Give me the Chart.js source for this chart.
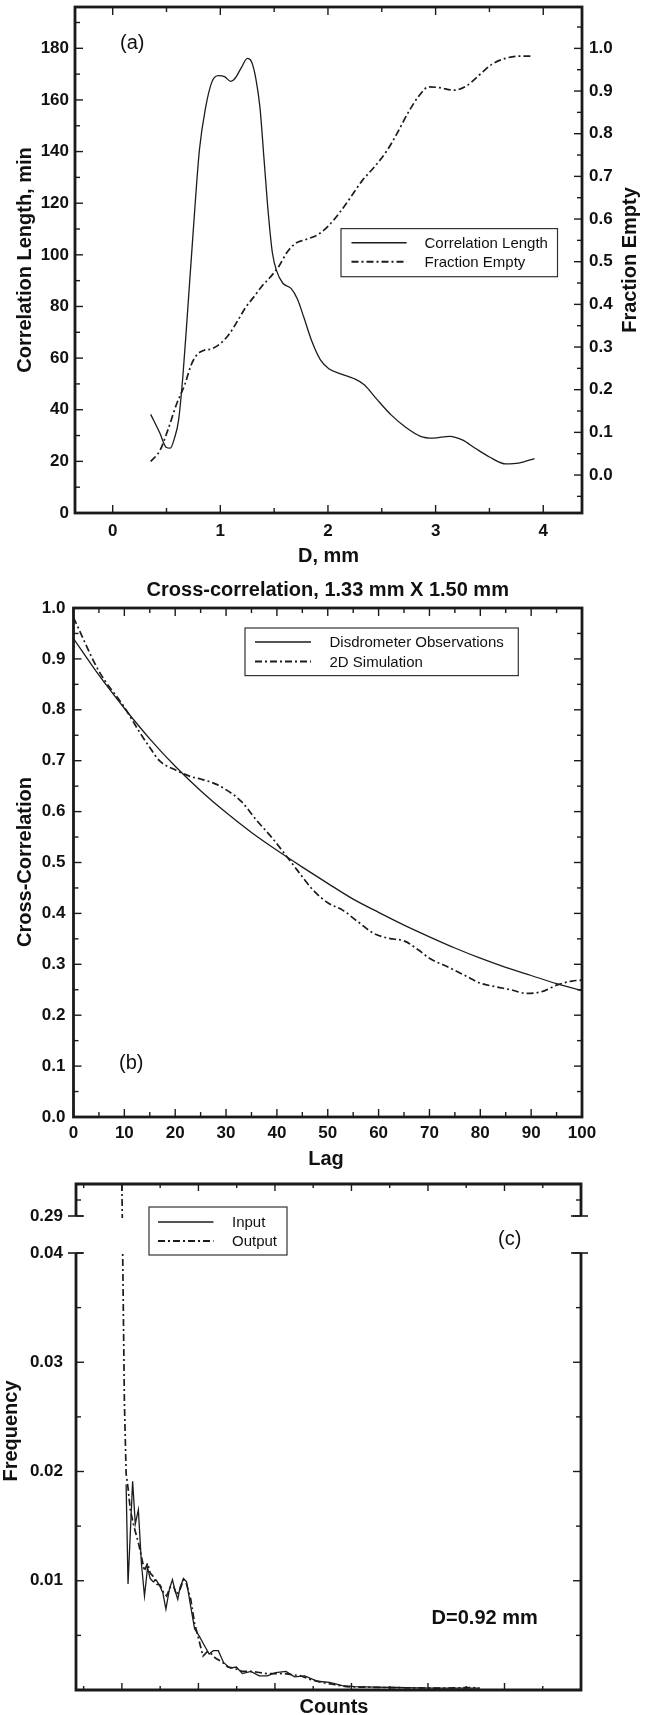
<!DOCTYPE html>
<html>
<head>
<meta charset="utf-8">
<script src="https://cdn.jsdelivr.net/npm/chart.js@4.4.0/dist/chart.umd.min.js"></script>
<style>
html,body{margin:0;padding:0;background:#fff;}
#wrap{position:relative;width:654px;height:1715px;background:#fff;}
canvas{position:absolute;left:0;}
</style>
</head>
<body>
<div id="wrap">
<canvas id="ca" width="654" height="575" style="top:0px"></canvas>
<canvas id="cb" width="654" height="600" style="top:575px"></canvas>
<canvas id="cc" width="654" height="540" style="top:1175px"></canvas>
</div>
<script>
// ---------------- DATA ----------------
// (a) Correlation length vs D
const clD   = [0.353,0.438,0.496,0.535,0.574,0.612,0.651,0.69,0.748,0.806,0.864,0.922,0.98,1.039,1.097,1.136,1.194,1.252,1.29,1.33,1.368,1.407,1.446,1.484,1.523,1.581,1.659,1.717,1.775,1.853,1.93,2.008,2.124,2.24,2.337,2.453,2.589,2.725,2.86,2.977,3.132,3.248,3.364,3.5,3.655,3.771,3.919];
const clVal = [38.2,31,25.5,25.1,29,35.9,52.4,74.5,109,140.7,157.2,167,169.4,169,167.2,168.3,172.4,176.1,174.8,168.3,157.2,136.6,115.9,100.7,93.8,89,86.9,82.8,75.9,66.2,59.3,55.9,53.8,52.1,49.7,44.1,37.9,33.1,29.7,29,29.7,28.3,25.2,21.7,19,19.3,21.1];
// (a) Fraction empty vs D
const feD   = [0.353,0.438,0.515,0.593,0.67,0.729,0.787,0.845,0.922,1.0,1.078,1.155,1.233,1.31,1.388,1.465,1.543,1.62,1.698,1.795,1.91,2.008,2.105,2.202,2.318,2.434,2.55,2.647,2.744,2.841,2.938,3.035,3.171,3.287,3.403,3.519,3.655,3.791,3.907];
const feVal = [0.032,0.057,0.107,0.166,0.212,0.258,0.283,0.292,0.296,0.308,0.329,0.359,0.392,0.417,0.443,0.464,0.489,0.522,0.543,0.552,0.564,0.585,0.614,0.648,0.69,0.723,0.761,0.803,0.849,0.887,0.91,0.908,0.902,0.912,0.937,0.962,0.977,0.982,0.982];
const aXMajor = [0,1,2,3,4];
const aXLabels = ['0','1','2','3','4'];
const aXMinor = [0.5,1.5,2.5,3.5];
const aYMajor = [0,20,40,60,80,100,120,140,160,180];
const aYLabels = ['0','20','40','60','80','100','120','140','160','180'];
const aYMinor = [10,30,50,70,90,110,130,150,170,190];
const aY2Major = [0,0.1,0.2,0.3,0.4,0.5,0.6,0.7,0.8,0.9,1.0];
const aY2Labels = ['0.0','0.1','0.2','0.3','0.4','0.5','0.6','0.7','0.8','0.9','1.0'];
const aY2Minor = [-0.05,0.05,0.15,0.25,0.35,0.45,0.55,0.65,0.75,0.85,0.95,1.05];

// (b) Cross-correlation vs lag
const obsLag = [0,5,10,15,20,25,30,35,40,45,50,55,60,65,70,75,80,85,90,95,100];
const obsVal = [0.940,0.868,0.803,0.743,0.689,0.641,0.598,0.559,0.524,0.491,0.459,0.428,0.402,0.377,0.354,0.332,0.312,0.294,0.278,0.262,0.248];
const simLag = [0,5,10,13,15,17,20,23,25,28,30,33,36,39,42,44,47,50,53,56,59,62,65,68,70,74,77,80,83,86,89,92,95,98,100];
const simVal = [0.981,0.876,0.805,0.756,0.726,0.699,0.682,0.669,0.664,0.654,0.643,0.620,0.583,0.549,0.511,0.485,0.447,0.421,0.406,0.383,0.361,0.351,0.346,0.327,0.312,0.293,0.278,0.263,0.256,0.250,0.243,0.246,0.259,0.267,0.269];
const bXMajor = [0,10,20,30,40,50,60,70,80,90,100];
const bXLabels = ['0','10','20','30','40','50','60','70','80','90','100'];
const bXMinor = [5,15,25,35,45,55,65,75,85,95];
const bYMajor = [0,0.1,0.2,0.3,0.4,0.5,0.6,0.7,0.8,0.9,1.0];
const bYLabels = ['0.0','0.1','0.2','0.3','0.4','0.5','0.6','0.7','0.8','0.9','1.0'];
const bYMinor = [0.05,0.15,0.25,0.35,0.45,0.55,0.65,0.75,0.85,0.95];

// (c) Frequency vs counts
const inCounts = [1.1,1.6,2.8,3.5,4.3,5.1,5.9,6.7,7.4,8.2,8.9,9.8,10.7,11.5,12.4,13.2,13.9,14.6,15.2,16.1,16.9,18.0,19.0,20.1,21.2,22.8,23.9,25.2,26.6,28.3,29.9,31.5,33.7,35.9,38.0,40.2,42.9,45.1,47.8,51.1,54.3,57.6,60.9,66.3,71.7,77.2,82.6,88.0,93.5];
const inFreq   = [0.0188,0.0097,0.0191,0.0152,0.0165,0.0116,0.0086,0.0112,0.0102,0.0099,0.0101,0.0096,0.0089,0.0074,0.0092,0.0101,0.0091,0.0083,0.0094,0.0102,0.0099,0.0076,0.0056,0.0050,0.0043,0.0033,0.0036,0.0036,0.0025,0.0020,0.0021,0.0015,0.0017,0.0013,0.0013,0.0016,0.0017,0.0012,0.0013,0.0008,0.0007,0.0004,0.0003,0.00026,0.00023,0.0002,0.00017,0.00017,0.00017];
const outCounts = [0,0.2,0.65,1.1,1.6,2.2,2.8,3.5,4.3,5.1,5.9,6.7,7.4,8.2,9.1,10.0,10.9,11.7,12.6,13.5,14.3,15.2,16.1,16.9,18.0,19.0,20.1,21.2,22.3,23.4,24.5,26.1,27.7,29.3,31.5,33.7,35.9,38.0,40.2,42.4,44.6,46.7,48.9,52.2,55.4,58.7,63.0,68.5,75.0,82.6,88.0,91.3,93.5];
const outFreq   = [0.30,0.040,0.0264,0.0198,0.0185,0.0165,0.0155,0.0145,0.0135,0.0122,0.0109,0.0116,0.0107,0.0104,0.0097,0.0096,0.0089,0.0086,0.0094,0.0095,0.0087,0.0092,0.0101,0.0097,0.0083,0.0061,0.0046,0.0031,0.0035,0.0033,0.0029,0.0026,0.0021,0.0020,0.0017,0.0017,0.0016,0.0015,0.0015,0.0015,0.0014,0.0013,0.0010,0.0007,0.0005,0.0003,0.00026,0.00023,0.0002,0.00017,0.0002,0.00023,0.00017];
const cYMajor = [0.01,0.02,0.03,0.04,0.29];
const cYLabels = ['0.01','0.02','0.03','0.04','0.29'];
const cYMinor = [0.005,0.015,0.025,0.035,0.295];
const cXMajor = [0,20,40,60,80,100];
const cXMinor = [-10,10,30,50,70,90,110];

// ---------------- STYLE / HELPERS ----------------
const FONT = "'Liberation Sans', Arial, Helvetica, sans-serif";
Chart.defaults.font.family = FONT;
Chart.defaults.color = '#111';
const INK = '#1a1a1a';
const DASHDOT = [7,3,2,3];

const pts = (xs, ys) => xs.map((x, i) => ({x: x, y: ys[i]}));

// broken axis for panel (c)
const BREAK_LOW = 0.04, BREAK_HIGH = 0.29, TOP_VAL = 0.30;
const F_LOW = 437/506, F_HIGH = 474/506;
function brokenFrac(v) {
  if (v <= BREAK_LOW) return v / BREAK_LOW * F_LOW;
  if (v < BREAK_HIGH) return F_LOW + (v - BREAK_LOW) / (BREAK_HIGH - BREAK_LOW) * (F_HIGH - F_LOW);
  return F_HIGH + (v - BREAK_HIGH) / (TOP_VAL - BREAK_HIGH) * (1 - F_HIGH);
}
function brokenVal(f) {
  if (f <= F_LOW) return f / F_LOW * BREAK_LOW;
  if (f < F_HIGH) return BREAK_LOW + (f - F_LOW) / (F_HIGH - F_LOW) * (BREAK_HIGH - BREAK_LOW);
  return BREAK_HIGH + (f - F_HIGH) / (1 - F_HIGH) * (TOP_VAL - BREAK_HIGH);
}
class BrokenScale extends Chart.LinearScale {
  getPixelForValue(v) {
    if (v === null || v === undefined || isNaN(v)) return NaN;
    return this.getPixelForDecimal(brokenFrac(v));
  }
  getValueForPixel(p) { return brokenVal(this.getDecimalForPixel(p)); }
}
BrokenScale.id = 'broken';
BrokenScale.defaults = Chart.LinearScale.defaults;
Chart.register(BrokenScale);

function axis(opts) {
  const values = opts.values || [], labels = opts.labels || [];
  return {
    type: opts.type || 'linear',
    position: opts.position,
    min: opts.min, max: opts.max,
    afterBuildTicks: s => { s.ticks = values.map(v => ({value: v})); },
    afterFit: s => {
      if (opts.width !== undefined) s.width = opts.width;
      if (opts.height !== undefined) s.height = opts.height;
      s.paddingTop = 0; s.paddingBottom = 0; s.paddingLeft = 0; s.paddingRight = 0;
    },
    grid: {display: false, drawTicks: false},
    border: {display: false},
    ticks: {
      display: opts.showLabels !== false,
      padding: opts.padding || 0,
      autoSkip: false, maxRotation: 0, minRotation: 0,
      color: '#111',
      font: {size: 17, weight: 'bold', family: FONT},
      callback: (v, i) => labels[i]
    }
  };
}

function drawText(ctx, s, x, y, size, weight, align) {
  ctx.save();
  ctx.font = weight + ' ' + size + 'px ' + FONT;
  ctx.fillStyle = '#111';
  ctx.textAlign = align;
  ctx.textBaseline = 'alphabetic';
  ctx.fillText(s, x, y);
  ctx.restore();
}
function drawVText(ctx, s, cx, cy, size) {
  ctx.save();
  ctx.font = 'bold ' + size + 'px ' + FONT;
  ctx.fillStyle = '#111';
  ctx.textAlign = 'center';
  ctx.textBaseline = 'alphabetic';
  ctx.translate(cx, cy);
  ctx.rotate(-Math.PI / 2);
  ctx.fillText(s, 0, 0.358 * size);
  ctx.restore();
}
function drawTicks(chart, list) {
  const ctx = chart.ctx, a = chart.chartArea;
  ctx.save();
  ctx.strokeStyle = INK;
  ctx.lineWidth = 1.4;
  list.forEach(t => {
    const sc = chart.scales[t.scale];
    t.values.forEach(v => {
      const p = sc.getPixelForValue(v);
      ctx.beginPath();
      if (t.side === 'left') { ctx.moveTo(a.left, p); ctx.lineTo(a.left + t.len, p); }
      else if (t.side === 'right') { ctx.moveTo(a.right, p); ctx.lineTo(a.right - t.len, p); }
      else if (t.side === 'bottom') { ctx.moveTo(p, a.bottom); ctx.lineTo(p, a.bottom - t.len); }
      else { ctx.moveTo(p, a.top); ctx.lineTo(p, a.top + t.len); }
      ctx.stroke();
    });
  });
  ctx.restore();
}
function drawLegend(chart, box, items) {
  const ctx = chart.ctx;
  ctx.save();
  ctx.fillStyle = '#fff';
  ctx.fillRect(box.x, box.y, box.w, box.h);
  ctx.strokeStyle = '#333';
  ctx.lineWidth = 1.2;
  ctx.strokeRect(box.x, box.y, box.w, box.h);
  items.forEach((it, i) => {
    const ds = chart.data.datasets[i];
    ctx.save();
    ctx.strokeStyle = ds.borderColor;
    ctx.lineWidth = ds.borderWidth + 0.3;
    ctx.setLineDash(ds.borderDash || []);
    ctx.beginPath();
    ctx.moveTo(box.lx0, it.y);
    ctx.lineTo(box.lx1, it.y);
    ctx.stroke();
    ctx.restore();
    drawText(ctx, ds.label, box.tx, it.y + 5.4, 15, 'normal', 'left');
  });
  ctx.restore();
}
function frameRect(chart) {
  const ctx = chart.ctx, a = chart.chartArea;
  ctx.save();
  ctx.strokeStyle = INK;
  ctx.lineWidth = 2.8;
  ctx.strokeRect(a.left, a.top, a.right - a.left, a.bottom - a.top);
  ctx.restore();
}
function lineDs(label, xs, ys, dashed, yAxisID, smooth) {
  return {
    label: label,
    data: pts(xs, ys),
    showLine: true,
    borderColor: '#1c1c1c',
    borderWidth: dashed ? 1.7 : 1.3,
    borderDash: dashed ? DASHDOT : [],
    pointRadius: 0,
    fill: false,
    yAxisID: yAxisID || 'y',
    tension: 0,
    cubicInterpolationMode: smooth ? 'monotone' : 'default'
  };
}
const baseOpts = {
  responsive: false,
  devicePixelRatio: 1,
  animation: false,
  events: [],
  plugins: {legend: {display: false}, tooltip: {enabled: false}, title: {display: false}}
};

// ---------------- PANEL (a) ----------------
new Chart(document.getElementById('ca'), {
  type: 'scatter',
  data: {datasets: [
    lineDs('Correlation Length', clD, clVal, false, 'y', true),
    lineDs('Fraction Empty', feD, feVal, true, 'y2', true)
  ]},
  options: Object.assign({}, baseOpts, {
    layout: {padding: {top: 7, left: 0, right: 0, bottom: 0}},
    scales: {
      x: axis({position: 'bottom', min: -0.35, max: 4.36, values: aXMajor, labels: aXLabels, height: 62, padding: 8}),
      y: axis({position: 'left', min: 0, max: 196, values: aYMajor, labels: aYLabels, width: 75, padding: 6}),
      y2: axis({position: 'right', min: -0.089, max: 1.097, values: aY2Major, labels: aY2Labels, width: 72, padding: 7})
    }
  }),
  plugins: [{
    id: 'decorA',
    afterDraw(chart) {
      const ctx = chart.ctx, a = chart.chartArea;
      drawTicks(chart, [
        {scale: 'x', side: 'bottom', values: aXMajor, len: 8},
        {scale: 'x', side: 'bottom', values: aXMinor, len: 5},
        {scale: 'x', side: 'top', values: aXMajor, len: 8},
        {scale: 'x', side: 'top', values: aXMinor, len: 5},
        {scale: 'y', side: 'left', values: aYMajor, len: 8},
        {scale: 'y', side: 'left', values: aYMinor, len: 5},
        {scale: 'y2', side: 'right', values: aY2Major, len: 8},
        {scale: 'y2', side: 'right', values: aY2Minor, len: 5}
      ]);
      frameRect(chart);
      drawLegend(chart, {x: 341, y: 228.6, w: 216.5, h: 48.1, lx0: 351.5, lx1: 406.6, tx: 424.5},
        [{y: 242.8}, {y: 261.7}]);
      drawVText(ctx, 'Correlation Length, min', 23.5, 260, 20);
      drawVText(ctx, 'Fraction Empty', 628.5, 260, 20);
      drawText(ctx, 'D, mm', (a.left + a.right) / 2, 562, 20, 'bold', 'center');
      drawText(ctx, '(a)', 120, 49, 20, 'normal', 'left');
    }
  }]
});

// ---------------- PANEL (b) ----------------
new Chart(document.getElementById('cb'), {
  type: 'scatter',
  data: {datasets: [
    lineDs('Disdrometer Observations', obsLag, obsVal, false, 'y', true),
    lineDs('2D Simulation', simLag, simVal, true, 'y', true)
  ]},
  options: Object.assign({}, baseOpts, {
    layout: {padding: {top: 33, left: 0, right: 72, bottom: 0}},
    scales: {
      x: axis({position: 'bottom', min: 0, max: 100, values: bXMajor, labels: bXLabels, height: 58, padding: 6}),
      y: axis({position: 'left', min: 0, max: 1, values: bYMajor, labels: bYLabels, width: 73.5, padding: 8})
    }
  }),
  plugins: [{
    id: 'decorB',
    afterDraw(chart) {
      const ctx = chart.ctx, a = chart.chartArea;
      drawTicks(chart, [
        {scale: 'x', side: 'bottom', values: bXMajor, len: 8},
        {scale: 'x', side: 'bottom', values: bXMinor, len: 5},
        {scale: 'x', side: 'top', values: bXMajor, len: 8},
        {scale: 'x', side: 'top', values: bXMinor, len: 5},
        {scale: 'y', side: 'left', values: bYMajor, len: 8},
        {scale: 'y', side: 'left', values: bYMinor, len: 5},
        {scale: 'y', side: 'right', values: bYMajor, len: 8},
        {scale: 'y', side: 'right', values: bYMinor, len: 5}
      ]);
      frameRect(chart);
      drawLegend(chart, {x: 245, y: 53, w: 273.3, h: 47.6, lx0: 255, lx1: 311, tx: 329.5},
        [{y: 67}, {y: 86.4}]);
      drawText(ctx, 'Cross-correlation, 1.33 mm X 1.50 mm', (a.left + a.right) / 2, 20.5, 20, 'bold', 'center');
      drawVText(ctx, 'Cross-Correlation', 24, 287, 20);
      drawText(ctx, 'Lag', 326, 590, 20, 'bold', 'center');
      drawText(ctx, '(b)', 119, 493.8, 20, 'normal', 'left');
    }
  }]
});

// ---------------- PANEL (c) ----------------
new Chart(document.getElementById('cc'), {
  type: 'scatter',
  data: {datasets: [
    lineDs('Input', inCounts, inFreq, false, 'y', false),
    lineDs('Output', outCounts, outFreq, true, 'y', false)
  ]},
  options: Object.assign({}, baseOpts, {
    layout: {padding: {top: 9, left: 0, right: 73, bottom: 0}},
    scales: {
      x: axis({position: 'bottom', min: -12, max: 120, values: cXMajor, labels: [], height: 25, showLabels: false}),
      y: axis({type: 'broken', position: 'left', min: 0, max: TOP_VAL, values: cYMajor, labels: cYLabels, width: 76, padding: 13})
    }
  }),
  plugins: [{
    id: 'decorC',
    afterDatasetsDraw(chart) {
      const ctx = chart.ctx, a = chart.chartArea, y = chart.scales.y;
      const yHi = y.getPixelForValue(BREAK_HIGH), yLo = y.getPixelForValue(BREAK_LOW);
      ctx.save();
      ctx.fillStyle = '#fff';
      ctx.fillRect(a.left + 2, yHi + 2, a.right - a.left - 4, yLo - yHi - 4);
      ctx.restore();
    },
    afterDraw(chart) {
      const ctx = chart.ctx, a = chart.chartArea, y = chart.scales.y;
      const yHi = y.getPixelForValue(BREAK_HIGH), yLo = y.getPixelForValue(BREAK_LOW);
      drawTicks(chart, [
        {scale: 'x', side: 'bottom', values: cXMajor, len: 7},
        {scale: 'x', side: 'bottom', values: cXMinor, len: 4},
        {scale: 'x', side: 'top', values: cXMajor, len: 7},
        {scale: 'x', side: 'top', values: cXMinor, len: 4},
        {scale: 'y', side: 'left', values: cYMajor, len: 8},
        {scale: 'y', side: 'left', values: cYMinor, len: 5},
        {scale: 'y', side: 'right', values: cYMajor, len: 8},
        {scale: 'y', side: 'right', values: cYMinor, len: 5}
      ]);
      ctx.save();
      ctx.strokeStyle = INK;
      ctx.lineWidth = 2.8;
      ctx.lineJoin = 'miter';
      ctx.beginPath();
      ctx.moveTo(a.left, yHi); ctx.lineTo(a.left, a.top); ctx.lineTo(a.right, a.top); ctx.lineTo(a.right, yHi);
      ctx.stroke();
      ctx.beginPath();
      ctx.moveTo(a.left, yLo); ctx.lineTo(a.left, a.bottom); ctx.lineTo(a.right, a.bottom); ctx.lineTo(a.right, yLo);
      ctx.stroke();
      ctx.lineWidth = 1.6;
      [yHi, yLo].forEach(p => {
        ctx.beginPath(); ctx.moveTo(a.left - 8, p); ctx.lineTo(a.left + 7, p); ctx.stroke();
        ctx.beginPath(); ctx.moveTo(a.right - 10, p); ctx.lineTo(a.right + 7, p); ctx.stroke();
      });
      ctx.restore();
      drawLegend(chart, {x: 149, y: 32, w: 138, h: 48, lx0: 158, lx1: 213.5, tx: 232},
        [{y: 47}, {y: 66}]);
      drawVText(ctx, 'Frequency', 9.5, 256, 20);
      drawText(ctx, 'Counts', 334, 538, 20, 'bold', 'center');
      drawText(ctx, '(c)', 498, 70, 20, 'normal', 'left');
      drawText(ctx, 'D=0.92 mm', 431.6, 448.6, 20, 'bold', 'left');
    }
  }]
});
</script>
</body>
</html>
